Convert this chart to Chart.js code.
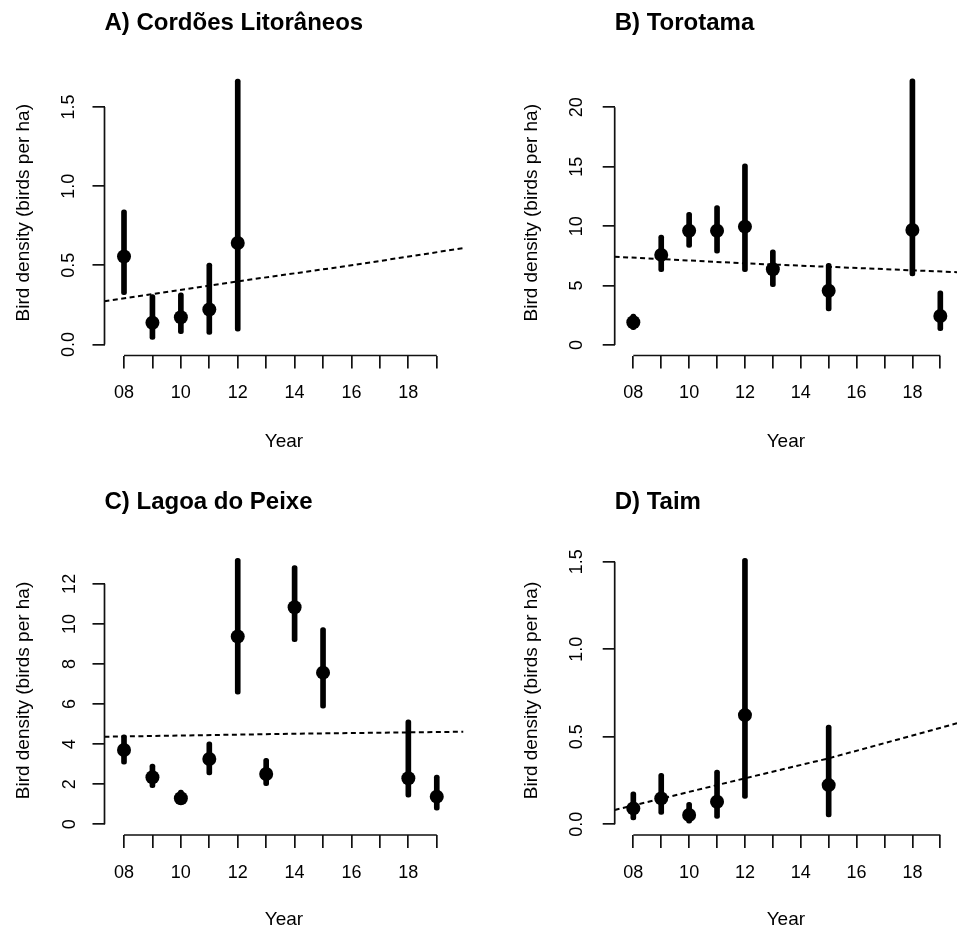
<!DOCTYPE html>
<html>
<head>
<meta charset="utf-8">
<script src="https://cdn.jsdelivr.net/npm/chart.js@4.4.1/dist/chart.umd.min.js"></script>
<style>
body { margin: 0; background: #fff; }
#grid { position: relative; width: 964px; height: 930px; }
.cell { position: absolute; width: 482px; height: 465px; }
</style>
</head>
<body>
<div id="grid">
	<div class="cell" style="left:0;top:0"><canvas id="chartA" width="482" height="465"></canvas></div>
	<div class="cell" style="left:482px;top:0"><canvas id="chartB" width="482" height="465"></canvas></div>
	<div class="cell" style="left:0;top:465px"><canvas id="chartC" width="482" height="465"></canvas></div>
	<div class="cell" style="left:482px;top:465px"><canvas id="chartD" width="482" height="465"></canvas></div>
</div>
<script>
// shared x axis
var yearTicks = [8, 9, 10, 11, 12, 13, 14, 15, 16, 17, 18, 19];
var yearLabels = ['08', '', '10', '', '12', '', '14', '', '16', '', '18', ''];

// A) Cordões Litorâneos
var yearsA = [8, 9, 10, 11, 12];
var densA = [0.556, 0.137, 0.172, 0.221, 0.641];
var lowA = [0.315, 0.032, 0.069, 0.063, 0.084];
var highA = [0.851, 0.315, 0.326, 0.515, 1.676];
var trendXA = [7.31, 12, 16, 19.94];
var trendA = [0.273, 0.399, 0.50, 0.609];
var yTicksA = [0, 0.5, 1.0, 1.5];
var yLabelsA = ['0.0', '0.5', '1.0', '1.5'];

// B) Torotama
var yearsB = [8, 9, 10, 11, 12, 13, 15, 18, 19];
var densB = [1.91, 7.58, 9.62, 9.62, 9.96, 6.37, 4.57, 9.68, 2.44];
var lowB = [1.3, 6.17, 8.22, 7.72, 6.17, 4.91, 2.86, 5.81, 1.2];
var highB = [2.6, 9.26, 11.17, 11.73, 15.24, 8.0, 6.87, 22.4, 4.55];
var trendXB = [7.33, 12, 19.6];
var trendB = [7.43, 6.87, 6.13];
var yTicksB = [0, 5, 10, 15, 20];
var yLabelsB = ['0', '5', '10', '15', '20'];

// C) Lagoa do Peixe
var yearsC = [8, 9, 10, 11, 12, 13, 14, 15, 18, 19];
var densC = [3.71, 2.35, 1.30, 3.26, 9.37, 2.51, 10.83, 7.57, 2.30, 1.38];
var lowC = [3.0, 1.83, 1.05, 2.46, 6.49, 1.93, 9.12, 5.79, 1.35, 0.71];
var highC = [4.46, 3.01, 1.71, 4.12, 13.28, 3.29, 12.91, 9.82, 5.21, 2.46];
var trendXC = [7.31, 14, 19.94];
var trendC = [4.37, 4.52, 4.62];
var yTicksC = [0, 2, 4, 6, 8, 10, 12];
var yLabelsC = ['0', '2', '4', '6', '8', '10', '12'];

// D) Taim
var yearsD = [8, 9, 10, 11, 12, 15];
var densD = [0.091, 0.148, 0.053, 0.129, 0.624, 0.224];
var lowD = [0.025, 0.057, 0.006, 0.034, 0.148, 0.043];
var highD = [0.186, 0.291, 0.126, 0.31, 1.519, 0.567];
var trendXD = [7.33, 12, 15, 19.6];
var trendD = [0.082, 0.263, 0.377, 0.577];
var yTicksD = [0, 0.5, 1.0, 1.5];
var yLabelsD = ['0.0', '0.5', '1.0', '1.5'];

Chart.defaults.font.family = '"Liberation Sans", Arial, sans-serif';
Chart.defaults.color = '#000';

var W = 482, H = 465;

// R style axes: line only from first to last tick
var rAxes = {
	id: 'rAxes',
	afterDraw: function(chart) {
		var ctx = chart.ctx;
		var xs = chart.scales.x, ys = chart.scales.y, a = chart.chartArea;
		ctx.save();
		ctx.strokeStyle = '#111';
		ctx.lineWidth = 1.7;
		ctx.beginPath();
		ctx.moveTo(xs.getPixelForValue(xs.ticks[0].value), a.bottom);
		ctx.lineTo(xs.getPixelForValue(xs.ticks[xs.ticks.length - 1].value), a.bottom);
		ctx.moveTo(a.left, ys.getPixelForValue(ys.ticks[0].value));
		ctx.lineTo(a.left, ys.getPixelForValue(ys.ticks[ys.ticks.length - 1].value));
		ctx.stroke();
		ctx.restore();
	}
};

function pairs(xs, ys) {
	return xs.map(function(x, i) { return {x: x, y: ys[i]}; });
}
function ranges(xs, lo, hi) {
	return xs.map(function(x, i) { return {x: x, y: [lo[i], hi[i]]}; });
}

function panel(id, p) {
	return new Chart(document.getElementById(id), {
		type: 'bar',
		data: {
			datasets: [{
				type: 'scatter',
				data: pairs(p.years, p.dens),
				pointRadius: 7,
				pointHoverRadius: 7,
				backgroundColor: '#000',
				borderWidth: 0
			}, {
				type: 'bar',
				data: ranges(p.years, p.low, p.high),
				backgroundColor: '#000',
				barThickness: 5,
				borderSkipped: false,
				borderRadius: 2.5
			}, {
				type: 'line',
				data: pairs(p.trendX, p.trend),
				borderColor: '#000',
				borderWidth: 2,
				borderDash: [5, 3.5],
				pointRadius: 0,
				fill: false,
				tension: 0
			}]
		},
		options: {
			responsive: false,
			animation: false,
			layout: { padding: { left: 0, top: 0, bottom: 0, right: W - p.area.right } },
			plugins: {
				legend: { display: false },
				tooltip: { enabled: false },
				title: {
					display: true,
					text: p.title,
					align: 'start',
					fullSize: false,
					color: '#000',
					font: { size: 24, weight: 'bold', lineHeight: 1.2 },
					padding: { top: p.titleY - 14.4, bottom: p.area.top - p.titleY - 14.4 }
				}
			},
			scales: {
				x: {
					type: 'linear',
					min: p.xMin,
					max: p.xMax,
					offset: false,
					afterBuildTicks: function(s) { s.ticks = yearTicks.map(function(v) { return {value: v}; }); },
					afterFit: function(s) { s.height = H - p.area.bottom; },
					border: { display: false },
					grid: { drawOnChartArea: false, tickLength: 13, color: '#111', lineWidth: 1.7, offset: false },
					ticks: {
						autoSkip: false, maxRotation: 0, padding: 14, color: '#000',
						font: { size: 18 },
						callback: function(v, i) { return yearLabels[i]; }
					},
					title: {
						display: true, text: 'Year', color: '#000',
						font: { size: 19, lineHeight: 1 },
						padding: { top: 0, bottom: p.xTitlePad }
					}
				},
				y: {
					type: 'linear',
					min: p.yMin,
					max: p.yMax,
					afterBuildTicks: function(s) { s.ticks = p.yTicks.map(function(v) { return {value: v}; }); },
					afterFit: function(s) { s.width = p.area.left; },
					border: { display: false },
					grid: { drawOnChartArea: false, tickLength: 12, color: '#111', lineWidth: 1.7 },
					ticks: {
						minRotation: 90, crossAlign: 'center', padding: p.yTickPad, color: '#000',
						font: { size: 18 },
						callback: function(v, i) { return p.yLabels[i]; }
					},
					title: {
						display: true, text: 'Bird density (birds per ha)', color: '#000',
						font: { size: 19, lineHeight: 1 },
						padding: { top: p.yTitlePad, bottom: 0 }
					}
				}
			}
		},
		plugins: [rAxes]
	});
}

var chartA = panel('chartA', {
	title: 'A) Cordões Litorâneos', titleY: 23,
	years: yearsA, dens: densA, low: lowA, high: highA, trendX: trendXA, trend: trendA,
	yTicks: yTicksA, yLabels: yLabelsA,
	area: { left: 104.5, top: 70, right: 463.5, bottom: 355.5 },
	xMin: 7.314, xMax: 19.94, yMin: -0.0695, yMax: 1.734,
	yTickPad: 10.7, yTitlePad: 13.8, xTitlePad: 13.8
});

var chartB = panel('chartB', {
	title: 'B) Torotama', titleY: 23,
	years: yearsB, dens: densB, low: lowB, high: highB, trendX: trendXB, trend: trendB,
	yTicks: yTicksB, yLabels: yLabelsB,
	area: { left: 132.7, top: 70, right: 482, bottom: 355.5 },
	xMin: 7.333, xMax: 19.598, yMin: -0.883, yMax: 23.14,
	yTickPad: 15.7, yTitlePad: 40.5, xTitlePad: 13.8
});

var chartC = panel('chartC', {
	title: 'C) Lagoa do Peixe', titleY: 37,
	years: yearsC, dens: densC, low: lowC, high: highC, trendX: trendXC, trend: trendC,
	yTicks: yTicksC, yLabels: yLabelsC,
	area: { left: 104.5, top: 81, right: 463.5, bottom: 370 },
	xMin: 7.314, xMax: 19.94, yMin: -0.534, yMax: 13.89,
	yTickPad: 12.8, yTitlePad: 13.8, xTitlePad: 0.5
});

var chartD = panel('chartD', {
	title: 'D) Taim', titleY: 37,
	years: yearsD, dens: densD, low: lowD, high: highD, trendX: trendXD, trend: trendD,
	yTicks: yTicksD, yLabels: yLabelsD,
	area: { left: 132.7, top: 81, right: 482, bottom: 370 },
	xMin: 7.333, xMax: 19.598, yMin: -0.061, yMax: 1.59,
	yTickPad: 12.7, yTitlePad: 40.5, xTitlePad: 0.5
});
</script>
</body>
</html>
